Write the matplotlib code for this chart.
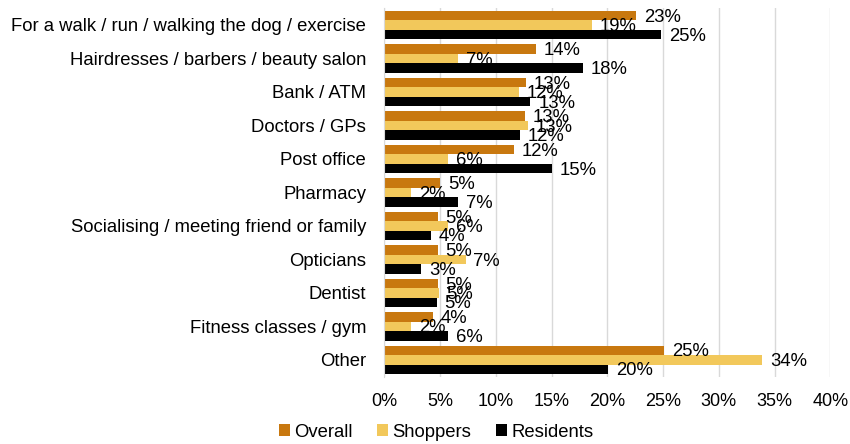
import numpy as np
import matplotlib
matplotlib.use('Agg')
import matplotlib.pyplot as plt

plt.rcParams['font.family'] = ['Liberation Sans', 'DejaVu Sans']

# Data
categories = ['For a walk / run / walking the dog / exercise',
              'Hairdresses / barbers / beauty salon',
              'Bank / ATM',
              'Doctors / GPs',
              'Post office',
              'Pharmacy',
              'Socialising / meeting friend or family',
              'Opticians',
              'Dentist',
              'Fitness classes / gym',
              'Other']
overall = [22.6, 13.6, 12.7, 12.6, 11.6, 5.0, 4.8, 4.8, 4.8, 4.4, 25.1]
shoppers = [18.6, 6.6, 12.1, 12.9, 5.7, 2.4, 5.7, 7.3, 4.9, 2.4, 33.9]
residents = [24.8, 17.8, 13.1, 12.2, 15.0, 6.6, 4.2, 3.3, 4.7, 5.7, 20.1]
series_names = ['Overall', 'Shoppers', 'Residents']
colors = ['#C8780F', '#F2C85B', '#000000']

fs = 13.3
fig = plt.figure(figsize=(8.5, 4.44), dpi=100)
ax = fig.add_axes([0.452, 0.152, 0.525, 0.8295])

y = np.arange(len(categories))
h = 0.283
for i, (vals, name, col) in enumerate(zip([overall, shoppers, residents], series_names, colors)):
    pos = y + (i - 1) * h
    ax.barh(pos, vals, height=h, color=col, label=name, zorder=2)
    for p, v in zip(pos, vals):
        ax.text(v + 0.7, p + 0.05, f'{v:.0f}%', va='center', ha='left', fontsize=fs, zorder=3)

ax.set_xlim(0, 40)
ax.set_ylim(len(categories) - 0.5, -0.5)
ax.set_xticks(np.arange(0, 41, 5))
ax.set_xticklabels([f'{t}%' for t in range(0, 41, 5)], fontsize=13)
ax.set_yticks(y)
ax.set_yticklabels(categories, fontsize=fs)
ax.tick_params(axis='both', length=0)
ax.tick_params(axis='x', pad=12)
ax.tick_params(axis='y', pad=13)
ax.grid(axis='x', color='#D9D9D9', linewidth=1, zorder=0)
for s in ['top', 'right', 'bottom']:
    ax.spines[s].set_visible(False)
ax.spines['left'].set_color('#D9D9D9')

fig.legend(loc='center', bbox_to_anchor=(0.513, 0.027), ncol=3, frameon=False,
           fontsize=fs, handlelength=0.6, handleheight=0.6, handletextpad=0.25,
           columnspacing=1.3)

plt.savefig('out.png', dpi=100)
